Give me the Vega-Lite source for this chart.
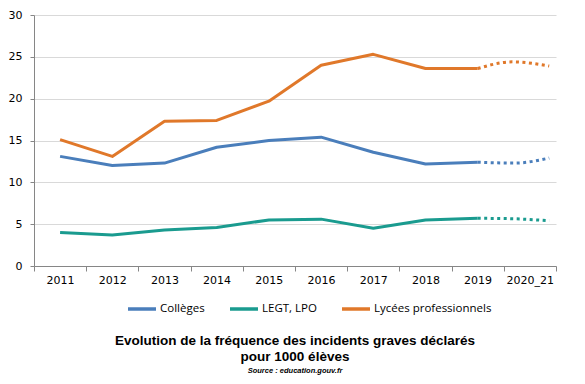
{
  "$schema": "https://vega.github.io/schema/vega-lite/v6.json",
  "width": 522,
  "height": 251,
  "padding": {"left": 8, "top": 9, "right": 20, "bottom": 2},
  "background": "white",
  "config": {
    "view": {"stroke": null},
    "font": "DejaVu Sans"
  },
  "title": {
    "text": ["Evolution de la fréquence des incidents graves déclarés", "pour 1000 élèves"],
    "subtitle": "Source : education.gouv.fr",
    "orient": "bottom",
    "anchor": "middle",
    "font": "Liberation Sans",
    "fontSize": 13.5,
    "fontWeight": "bold",
    "color": "black",
    "lineHeight": 16,
    "subtitleFont": "Liberation Sans",
    "subtitleFontSize": 7.5,
    "subtitleFontStyle": "italic",
    "subtitleFontWeight": "bold",
    "subtitleColor": "black",
    "subtitlePadding": 3,
    "offset": 18
  },
  "datasets": {
    "solid": [
      {"series": "Collèges", "x": 0, "value": 13.1},
      {"series": "Collèges", "x": 1, "value": 12.0},
      {"series": "Collèges", "x": 2, "value": 12.3},
      {"series": "Collèges", "x": 3, "value": 14.2},
      {"series": "Collèges", "x": 4, "value": 15.0},
      {"series": "Collèges", "x": 5, "value": 15.4},
      {"series": "Collèges", "x": 6, "value": 13.6},
      {"series": "Collèges", "x": 7, "value": 12.2},
      {"series": "Collèges", "x": 8, "value": 12.4},
      {"series": "LEGT, LPO", "x": 0, "value": 4.0},
      {"series": "LEGT, LPO", "x": 1, "value": 3.7},
      {"series": "LEGT, LPO", "x": 2, "value": 4.3},
      {"series": "LEGT, LPO", "x": 3, "value": 4.6},
      {"series": "LEGT, LPO", "x": 4, "value": 5.5},
      {"series": "LEGT, LPO", "x": 5, "value": 5.6},
      {"series": "LEGT, LPO", "x": 6, "value": 4.5},
      {"series": "LEGT, LPO", "x": 7, "value": 5.5},
      {"series": "LEGT, LPO", "x": 8, "value": 5.7},
      {"series": "Lycées professionnels", "x": 0, "value": 15.1},
      {"series": "Lycées professionnels", "x": 1, "value": 13.1},
      {"series": "Lycées professionnels", "x": 2, "value": 17.3},
      {"series": "Lycées professionnels", "x": 3, "value": 17.4},
      {"series": "Lycées professionnels", "x": 4, "value": 19.7},
      {"series": "Lycées professionnels", "x": 5, "value": 24.0},
      {"series": "Lycées professionnels", "x": 6, "value": 25.3},
      {"series": "Lycées professionnels", "x": 7, "value": 23.6},
      {"series": "Lycées professionnels", "x": 8, "value": 23.6}
    ],
    "dotted": [
      {"series": "Collèges", "x": 8, "value": 12.4},
      {"series": "Collèges", "x": 8.7, "value": 12.3},
      {"series": "Collèges", "x": 9.37, "value": 12.9},
      {"series": "LEGT, LPO", "x": 8, "value": 5.7},
      {"series": "LEGT, LPO", "x": 8.66, "value": 5.65},
      {"series": "LEGT, LPO", "x": 9.37, "value": 5.4},
      {"series": "Lycées professionnels", "x": 8, "value": 23.6},
      {"series": "Lycées professionnels", "x": 8.66, "value": 24.4},
      {"series": "Lycées professionnels", "x": 9.37, "value": 23.9}
    ]
  },
  "encoding": {
    "x": {
      "field": "x",
      "type": "quantitative",
      "scale": {"domain": [-0.5, 9.5], "nice": false, "zero": false},
      "axis": {
        "title": null,
        "values": [-0.5, 0.5, 1.5, 2.5, 3.5, 4.5, 5.5, 6.5, 7.5, 8.5, 9.5],
        "labelExpr": "datum.value > 9 ? '' : ['2011','2012','2013','2014','2015','2016','2017','2018','2019','2020_21'][datum.value + 0.5]",
        "labelOffset": 26,
        "labelAlign": "center",
        "labelFlush": false,
        "labelOverlap": false,
        "labelBound": false,
        "labelFont": "DejaVu Sans",
        "labelFontSize": 11,
        "labelColor": "black",
        "labelPadding": 3,
        "grid": false,
        "domainColor": "#868686",
        "tickColor": "#868686",
        "tickSize": 5
      }
    },
    "y": {
      "field": "value",
      "type": "quantitative",
      "scale": {"domain": [0, 30], "nice": false},
      "axis": {
        "title": null,
        "values": [0, 5, 10, 15, 20, 25, 30],
        "labelFont": "DejaVu Sans",
        "labelFontSize": 11,
        "labelColor": "black",
        "labelPadding": 8,
        "tickSize": 4,
        "tickColor": "#868686",
        "domainColor": "#868686",
        "gridColor": "#D9D9D9",
        "gridWidth": 1
      }
    },
    "color": {
      "field": "series",
      "type": "nominal",
      "scale": {
        "domain": ["Collèges", "LEGT, LPO", "Lycées professionnels"],
        "range": ["#4A7EBB", "#1A9B8F", "#E0782A"]
      }
    }
  },
  "layer": [
    {
      "data": {"name": "solid"},
      "mark": {"type": "line", "interpolate": "linear", "strokeWidth": 3, "strokeJoin": "round"},
      "encoding": {
        "color": {
          "field": "series",
          "type": "nominal",
          "legend": {
            "title": null,
            "orient": "none",
            "direction": "horizontal",
            "legendX": 92,
            "legendY": 278,
            "symbolType": "stroke",
            "symbolSize": 784,
            "symbolStrokeWidth": 3.5,
            "labelFont": "Open Sans",
            "labelFontSize": 11.5,
            "labelColor": "black",
            "labelOffset": 2,
            "columnPadding": 18
          }
        }
      }
    },
    {
      "data": {"name": "dotted"},
      "mark": {"type": "line", "interpolate": "monotone", "strokeWidth": 3, "strokeDash": [3, 3.5]},
      "encoding": {
        "color": {"field": "series", "type": "nominal", "legend": null}
      }
    }
  ]
}
